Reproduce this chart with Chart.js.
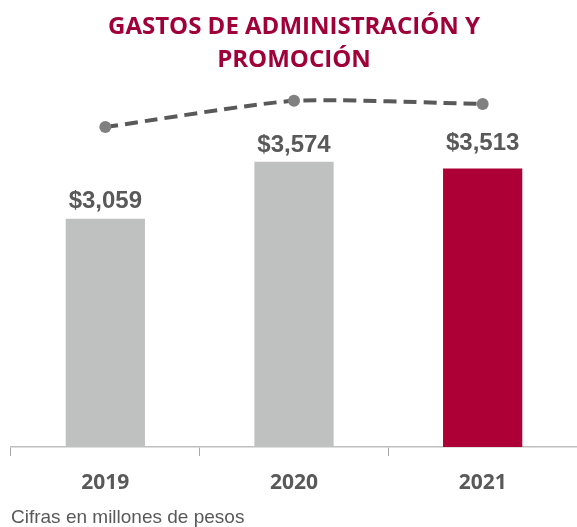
<!DOCTYPE html>
<html lang="es">
<head>
  <meta charset="UTF-8" />
  <title>Gastos de administración y promoción</title>
  <script src="https://cdn.jsdelivr.net/npm/chart.js"></script>
  <style>
    body {
      margin: 0;
      background: #fff;
    }
    #gastosChart {
      display: block;
    }
  </style>
</head>
<body>
  <canvas id="gastosChart" width="577" height="527"></canvas>

  <script>
    // Datos (cifras en millones de pesos)
    const years = ['2019', '2020', '2021'];
    const gastos = [3059, 3574, 3513];
    const tendencia = [90.2, 97.6, 96.7];
    const etiquetas = ['$3,059', '$3,574', '$3,513'];

    const barColors = ['#bfc1c0', '#bfc1c0', '#ad0036'];

    // dibuja el importe encima de cada barra
    const valueLabels = {
      id: 'valueLabels',
      afterDatasetsDraw(chart, args, opts) {
        const ctx = chart.ctx;
        const meta = chart.getDatasetMeta(1);
        ctx.save();
        ctx.font = 'bold 24px "Liberation Sans", Arial, sans-serif';
        ctx.fillStyle = '#595959';
        ctx.textAlign = 'center';
        ctx.textBaseline = 'alphabetic';
        meta.data.forEach((bar, i) => {
          ctx.fillText(etiquetas[i], bar.x, bar.y - opts.lift[i]);
        });
        ctx.restore();
      }
    };

    const ctx = document.getElementById('gastosChart').getContext('2d');

    new Chart(ctx, {
      data: {
        labels: years,
        datasets: [
          {
            type: 'line',
            data: tendencia,
            yAxisID: 'y2',
            borderColor: '#595959',
            borderWidth: 4,
            borderDash: [13, 7],
            pointRadius: 6,
            pointBackgroundColor: '#808080',
            pointBorderColor: '#808080',
            pointBorderWidth: 0,
            tension: 0.2,
            clip: false,
            order: 0
          },
          {
            type: 'bar',
            data: gastos,
            backgroundColor: barColors,
            categoryPercentage: 1,
            barPercentage: 0.42,
            order: 1
          }
        ]
      },
      options: {
        responsive: false,
        animation: false,
        devicePixelRatio: 1,
        layout: {
          autoPadding: false,
          padding: { left: 11, right: 0, top: 0, bottom: 0 }
        },
        plugins: {
          legend: { display: false },
          tooltip: { enabled: false },
          title: {
            display: true,
            text: ['GASTOS DE ADMINISTRACIÓN Y', 'PROMOCIÓN'],
            color: '#a0003a',
            font: { family: '"Open Sans", sans-serif', size: 24, weight: 'bold', lineHeight: 1.36 },
            padding: { top: 11, bottom: 16 }
          },
          subtitle: {
            display: true,
            position: 'bottom',
            align: 'start',
            text: 'Cifras en millones de pesos',
            color: '#595959',
            font: { family: '"Liberation Sans", Arial, sans-serif', size: 19, lineHeight: 0.94 },
            padding: { top: 0, bottom: 0 }
          },
          valueLabels: {
            lift: [11, 10, 18]
          }
        },
        scales: {
          x: {
            offset: true,
            grid: {
              display: true,
              offset: true,
              drawOnChartArea: false,
              drawTicks: true,
              tickLength: 9,
              color: '#a6a6a6'
            },
            border: { display: true, color: '#bfbfbf', width: 1.5 },
            ticks: {
              color: '#595959',
              padding: 14,
              font: { family: '"Open Sans", sans-serif', size: 21, weight: 'bold' }
            }
          },
          y: {
            display: false,
            min: 1000,
            max: 4200
          },
          y2: {
            display: false,
            min: 0,
            max: 100
          }
        }
      },
      plugins: [valueLabels]
    });
  </script>
</body>
</html>
